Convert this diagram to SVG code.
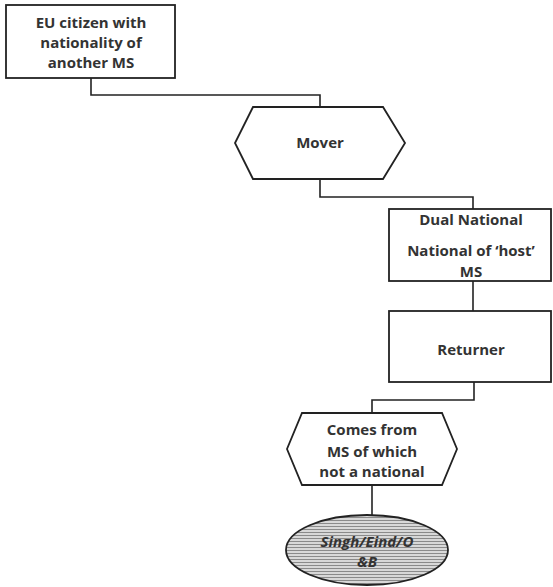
<svg xmlns="http://www.w3.org/2000/svg" width="553" height="587" viewBox="0 0 553 587">
<style>
.shape{fill:#fff;stroke:#222;stroke-width:1.8}
.conn{fill:none;stroke:#222;stroke-width:1.6}
.t{font-family:"Open Sans","Liberation Sans",sans-serif;font-weight:700;font-size:15px;fill:#333;text-anchor:middle}
.ti{font-style:italic}
</style>
<defs>
<pattern id="hatch" width="6" height="3" patternUnits="userSpaceOnUse">
<rect width="6" height="3" fill="#d8d8d8"/>
<line x1="0" y1="1.5" x2="6" y2="1.5" stroke="#8a8a8a" stroke-width="1"/>
</pattern>
</defs>
<g id="connectors">
<polyline class="conn" points="91,78 91,95 320,95 320,107"/>
<polyline class="conn" points="320,179 320,197 473,197 473,209"/>
<polyline class="conn" points="473,281 473,311"/>
<polyline class="conn" points="474,382 474,400 372,400 372,413"/>
<polyline class="conn" points="372,485 372,515"/>
</g>
<g id="node-eu-citizen">
<rect class="shape" x="6" y="5" width="169" height="73"/>
<text class="t" x="91" y="28">EU citizen with</text>
<text class="t" x="91" y="48">nationality of</text>
<text class="t" x="91" y="68">another MS</text>
</g>
<g id="node-mover">
<polygon class="shape" points="253,107 383,107 405,143 383,179 253,179 235,143"/>
<text class="t" x="320" y="148">Mover</text>
</g>
<g id="node-dual-national">
<rect class="shape" x="389" y="209" width="162" height="72"/>
<text class="t" x="471" y="225">Dual National</text>
<text class="t" x="471" y="256">National of ‘host’</text>
<text class="t" x="471" y="277">MS</text>
</g>
<g id="node-returner">
<rect class="shape" x="389" y="311" width="162" height="71"/>
<text class="t" x="471" y="355">Returner</text>
</g>
<g id="node-comes-from">
<polygon class="shape" points="302,413 442,413 457,449 442,485 302,485 287,449"/>
<text class="t" x="372" y="435">Comes from</text>
<text class="t" x="372" y="457">MS of which</text>
<text class="t" x="372" y="477">not a national</text>
</g>
<g id="node-singh">
<ellipse cx="367" cy="550" rx="81" ry="35" fill="url(#hatch)" stroke="#222" stroke-width="1.8"/>
<text class="t ti" x="367" y="547">Singh/Eind/O</text>
<text class="t ti" x="367" y="567">&amp;B</text>
</g>
</svg>
